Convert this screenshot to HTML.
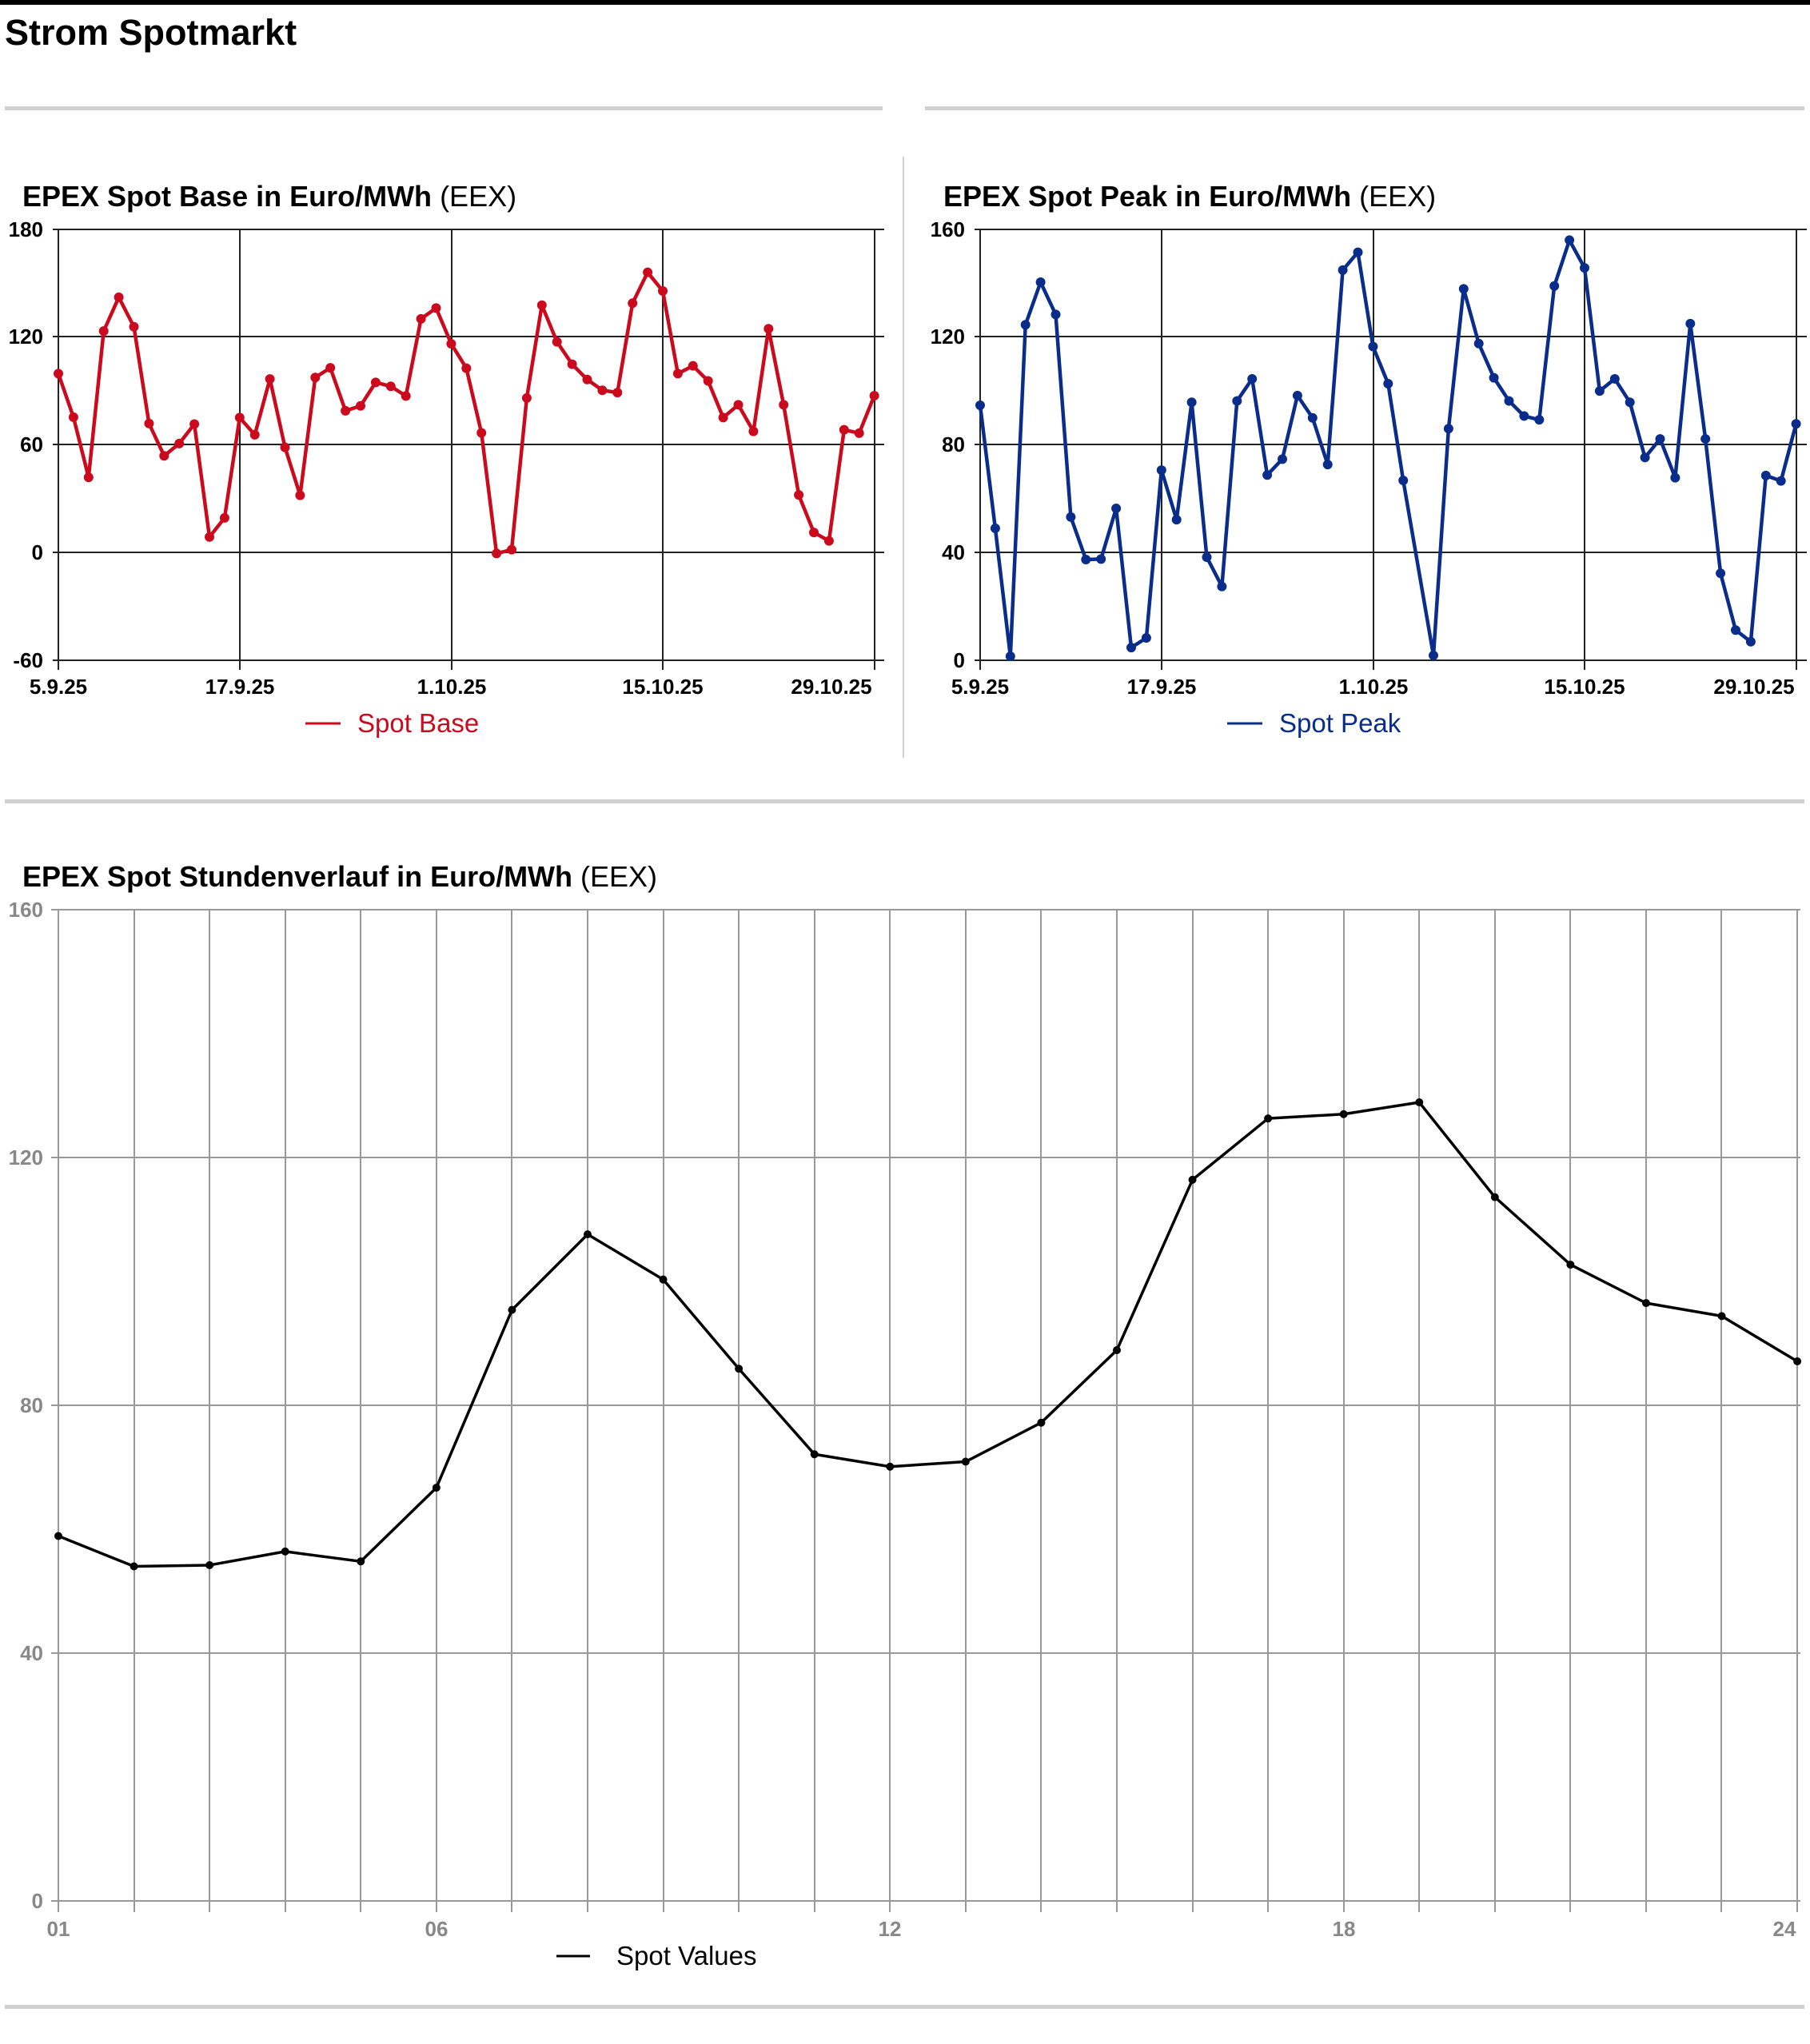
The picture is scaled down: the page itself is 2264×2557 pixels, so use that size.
<!DOCTYPE html>
<html><head><meta charset="utf-8"><style>
html,body{margin:0;padding:0;background:#fff;}
svg{display:block;font-family:"Liberation Sans",Arial,sans-serif;}
</style></head><body>
<svg width="2264" height="2557" viewBox="0 0 2264 2557" xmlns="http://www.w3.org/2000/svg">
<rect x="0" y="0" width="2264" height="6" fill="#000"/>
<text x="6" y="56" font-size="45" font-weight="bold" fill="#000">Strom Spotmarkt</text>
<rect x="6" y="133" width="1098" height="5" fill="#d0d0d0"/>
<rect x="1157" y="133" width="1100" height="5" fill="#d0d0d0"/>
<rect x="1129" y="196" width="2" height="752" fill="#d0d0d0"/>
<rect x="6" y="1000" width="2251" height="5" fill="#d0d0d0"/>
<rect x="6" y="2508" width="2251" height="5" fill="#d0d0d0"/>

<!-- LEFT CHART -->
<text x="28" y="258" font-size="36" font-weight="bold" fill="#000">EPEX Spot Base in Euro/MWh <tspan font-weight="normal"> (EEX)</tspan></text>
<g stroke="#222" stroke-width="2">
<line x1="66" y1="287" x2="1106" y2="287"/>
<line x1="66" y1="421" x2="1106" y2="421"/>
<line x1="66" y1="556" x2="1106" y2="556"/>
<line x1="66" y1="691" x2="1106" y2="691"/>
<line x1="66" y1="826" x2="1106" y2="826"/>
<line x1="73" y1="287" x2="73" y2="838"/>
<line x1="300" y1="287" x2="300" y2="838"/>
<line x1="565" y1="287" x2="565" y2="838"/>
<line x1="829" y1="287" x2="829" y2="838"/>
<line x1="1094" y1="287" x2="1094" y2="838"/>
</g>
<g font-size="26" font-weight="bold" fill="#000" text-anchor="end">
<text x="54" y="296">180</text><text x="54" y="430">120</text><text x="54" y="565">60</text><text x="54" y="700">0</text><text x="54" y="835">-60</text>
</g>
<g font-size="26" font-weight="bold" fill="#000" text-anchor="middle">
<text x="73" y="868">5.9.25</text><text x="300" y="868">17.9.25</text><text x="565" y="868">1.10.25</text><text x="829" y="868">15.10.25</text><text x="1040" y="868">29.10.25</text>
</g>
<line x1="382" y1="905" x2="426" y2="905" stroke="#cc0a1e" stroke-width="3"/>
<text x="447" y="916" font-size="33" fill="#cc0a1e">Spot Base</text>
<g transform="translate(73,691.25) scale(18.9,-2.2458)" fill="none" stroke="#cc0a1e">
<polyline vector-effect="non-scaling-stroke" stroke-width="4.5" stroke-linejoin="round" points="0,99.7 1,75.4 2,41.9 3,123.4 4,142.2 5,125.8 6,71.9 7,53.9 8,60.7 9,71.6 10,8.7 11,19.3 12,75.2 13,65.6 14,96.7 15,58.6 16,31.9 17,97.5 18,102.9 19,79 20,81.7 21,94.8 22,92.6 23,87.2 24,130.2 25,136.2 26,116.3 27,102.7 28,66.7 29,-0.5 30,1.6 31,86.1 32,137.8 33,117.4 34,104.9 35,96.4 36,90.4 37,89.1 38,138.9 39,156.1 40,145.7 41,99.7 42,104 43,95.6 44,75.2 45,82.3 46,67.5 47,124.7 48,82.3 49,32.1 50,11.2 51,6.5 52,68.4 53,66.5 54,87.4"/>
<path vector-effect="non-scaling-stroke" stroke-width="12" stroke-linecap="round" d="M0 99.7h0M1 75.4h0M2 41.9h0M3 123.4h0M4 142.2h0M5 125.8h0M6 71.9h0M7 53.9h0M8 60.7h0M9 71.6h0M10 8.7h0M11 19.3h0M12 75.2h0M13 65.6h0M14 96.7h0M15 58.6h0M16 31.9h0M17 97.5h0M18 102.9h0M19 79h0M20 81.7h0M21 94.8h0M22 92.6h0M23 87.2h0M24 130.2h0M25 136.2h0M26 116.3h0M27 102.7h0M28 66.7h0M29 -0.5h0M30 1.6h0M31 86.1h0M32 137.8h0M33 117.4h0M34 104.9h0M35 96.4h0M36 90.4h0M37 89.1h0M38 138.9h0M39 156.1h0M40 145.7h0M41 99.7h0M42 104h0M43 95.6h0M44 75.2h0M45 82.3h0M46 67.5h0M47 124.7h0M48 82.3h0M49 32.1h0M50 11.2h0M51 6.5h0M52 68.4h0M53 66.5h0M54 87.4h0"/>
</g>

<!-- RIGHT CHART -->
<text x="1180" y="258" font-size="36" font-weight="bold" fill="#000">EPEX Spot Peak in Euro/MWh <tspan font-weight="normal"> (EEX)</tspan></text>
<g stroke="#222" stroke-width="2">
<line x1="1219" y1="287" x2="2260" y2="287"/>
<line x1="1219" y1="421" x2="2260" y2="421"/>
<line x1="1219" y1="556" x2="2260" y2="556"/>
<line x1="1219" y1="691" x2="2260" y2="691"/>
<line x1="1219" y1="826" x2="2260" y2="826"/>
<line x1="1226" y1="287" x2="1226" y2="838"/>
<line x1="1453" y1="287" x2="1453" y2="838"/>
<line x1="1718" y1="287" x2="1718" y2="838"/>
<line x1="1982" y1="287" x2="1982" y2="838"/>
<line x1="2247" y1="287" x2="2247" y2="838"/>
</g>
<g font-size="26" font-weight="bold" fill="#000" text-anchor="end">
<text x="1207" y="296">160</text><text x="1207" y="430">120</text><text x="1207" y="565">80</text><text x="1207" y="700">40</text><text x="1207" y="835">0</text>
</g>
<g font-size="26" font-weight="bold" fill="#000" text-anchor="middle">
<text x="1226" y="868">5.9.25</text><text x="1453" y="868">17.9.25</text><text x="1718" y="868">1.10.25</text><text x="1982" y="868">15.10.25</text><text x="2194" y="868">29.10.25</text>
</g>
<line x1="1535" y1="905" x2="1579" y2="905" stroke="#0a2d8c" stroke-width="3"/>
<text x="1600" y="916" font-size="33" fill="#0a2d8c">Spot Peak</text>
<g transform="translate(1226,826) scale(18.9,-3.369)" fill="none" stroke="#0a2d8c">
<polyline vector-effect="non-scaling-stroke" stroke-width="4.5" stroke-linejoin="round" points="0,94.7 1,49 2,1.5 3,124.6 4,140.4 5,128.4 6,53.2 7,37.4 8,37.6 9,56.4 10,4.7 11,8.3 12,70.6 13,52.2 14,95.8 15,38.3 16,27.4 17,96.3 18,104.5 19,68.8 20,74.7 21,98.3 22,90 23,72.7 24,144.9 25,151.5 26,116.5 27,102.7 28,66.8 30,1.8 31,86 32,137.9 33,117.6 34,104.9 35,96.3 36,90.7 37,89.3 38,139 39,156 40,145.7 41,100 42,104.5 43,95.8 44,75.3 45,82.2 46,67.8 47,125 48,82.2 49,32.3 50,11.2 51,6.9 52,68.6 53,66.6 54,87.8"/>
<path vector-effect="non-scaling-stroke" stroke-width="12" stroke-linecap="round" d="M0 94.7h0M1 49h0M2 1.5h0M3 124.6h0M4 140.4h0M5 128.4h0M6 53.2h0M7 37.4h0M8 37.6h0M9 56.4h0M10 4.7h0M11 8.3h0M12 70.6h0M13 52.2h0M14 95.8h0M15 38.3h0M16 27.4h0M17 96.3h0M18 104.5h0M19 68.8h0M20 74.7h0M21 98.3h0M22 90h0M23 72.7h0M24 144.9h0M25 151.5h0M26 116.5h0M27 102.7h0M28 66.8h0M30 1.8h0M31 86h0M32 137.9h0M33 117.6h0M34 104.9h0M35 96.3h0M36 90.7h0M37 89.3h0M38 139h0M39 156h0M40 145.7h0M41 100h0M42 104.5h0M43 95.8h0M44 75.3h0M45 82.2h0M46 67.8h0M47 125h0M48 82.2h0M49 32.3h0M50 11.2h0M51 6.9h0M52 68.6h0M53 66.6h0M54 87.8h0"/>
</g>

<!-- BOTTOM CHART -->
<text x="28" y="1109" font-size="36" font-weight="bold" fill="#000">EPEX Spot Stundenverlauf in Euro/MWh <tspan font-weight="normal">(EEX)</tspan></text>
<g stroke="#999" stroke-width="2">
<line x1="64" y1="1138" x2="2252" y2="1138"/>
<line x1="64" y1="1448" x2="2252" y2="1448"/>
<line x1="64" y1="1758" x2="2252" y2="1758"/>
<line x1="64" y1="2068" x2="2252" y2="2068"/>
<line x1="64" y1="2378" x2="2252" y2="2378"/>
</g>
<g stroke="#999" stroke-width="2">
<line x1="73" y1="1138" x2="73" y2="2392"/><line x1="168" y1="1138" x2="168" y2="2392"/><line x1="262" y1="1138" x2="262" y2="2392"/><line x1="357" y1="1138" x2="357" y2="2392"/><line x1="451" y1="1138" x2="451" y2="2392"/><line x1="546" y1="1138" x2="546" y2="2392"/><line x1="640" y1="1138" x2="640" y2="2392"/><line x1="735" y1="1138" x2="735" y2="2392"/><line x1="830" y1="1138" x2="830" y2="2392"/><line x1="924" y1="1138" x2="924" y2="2392"/><line x1="1019" y1="1138" x2="1019" y2="2392"/><line x1="1113" y1="1138" x2="1113" y2="2392"/><line x1="1208" y1="1138" x2="1208" y2="2392"/><line x1="1302" y1="1138" x2="1302" y2="2392"/><line x1="1397" y1="1138" x2="1397" y2="2392"/><line x1="1492" y1="1138" x2="1492" y2="2392"/><line x1="1586" y1="1138" x2="1586" y2="2392"/><line x1="1681" y1="1138" x2="1681" y2="2392"/><line x1="1775" y1="1138" x2="1775" y2="2392"/><line x1="1870" y1="1138" x2="1870" y2="2392"/><line x1="1964" y1="1138" x2="1964" y2="2392"/><line x1="2059" y1="1138" x2="2059" y2="2392"/><line x1="2153" y1="1138" x2="2153" y2="2392"/><line x1="2248" y1="1138" x2="2248" y2="2392"/>
</g>
<g font-size="26" font-weight="bold" fill="#888" text-anchor="end">
<text x="54" y="1147">160</text><text x="54" y="1457">120</text><text x="54" y="1767">80</text><text x="54" y="2077">40</text><text x="54" y="2387">0</text>
</g>
<g font-size="26" font-weight="bold" fill="#888" text-anchor="middle">
<text x="73" y="2422">01</text><text x="546" y="2422">06</text><text x="1113" y="2422">12</text><text x="1681" y="2422">18</text><text x="2232" y="2422">24</text>
</g>
<line x1="696" y1="2447" x2="738" y2="2447" stroke="#000" stroke-width="3"/>
<text x="771" y="2458" font-size="33" fill="#000">Spot Values</text>
<g transform="translate(-21.57,2378) scale(94.57,-7.75)" fill="none" stroke="#000">
<polyline vector-effect="non-scaling-stroke" stroke-width="3.5" stroke-linejoin="round" points="1,58.9 2,54 3,54.2 4,56.4 5,54.8 6,66.7 7,95.4 8,107.6 9,100.3 10,85.9 11,72.1 12,70.1 13,70.9 14,77.2 15,88.9 16,116.4 17,126.3 18,127 19,128.9 20,113.6 21,102.7 22,96.5 23,94.4 24,87.1"/>
<path vector-effect="non-scaling-stroke" stroke-width="10" stroke-linecap="round" d="M1 58.9h0M2 54h0M3 54.2h0M4 56.4h0M5 54.8h0M6 66.7h0M7 95.4h0M8 107.6h0M9 100.3h0M10 85.9h0M11 72.1h0M12 70.1h0M13 70.9h0M14 77.2h0M15 88.9h0M16 116.4h0M17 126.3h0M18 127h0M19 128.9h0M20 113.6h0M21 102.7h0M22 96.5h0M23 94.4h0M24 87.1h0"/>
</g>
</svg>
</body></html>
